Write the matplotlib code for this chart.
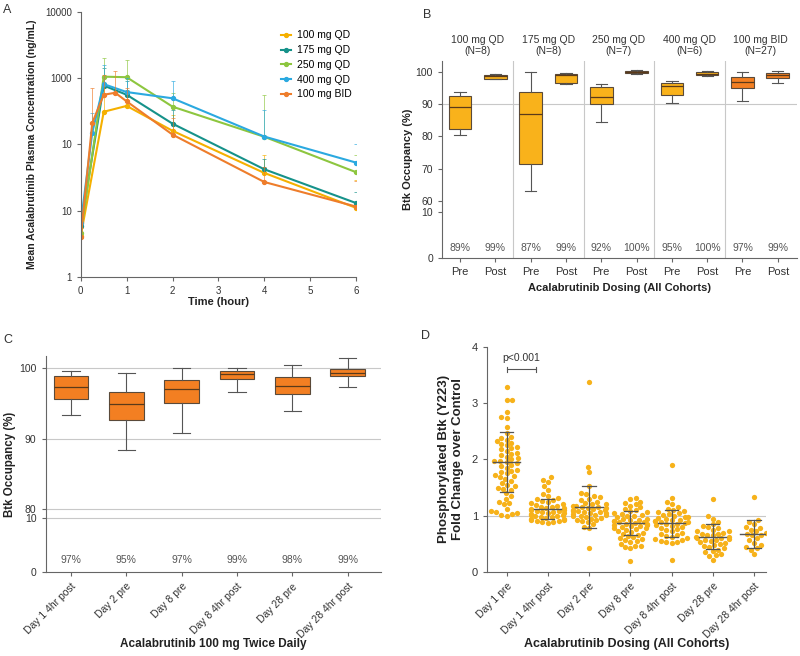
"""Four-panel acalabrutinib PK / Btk occupancy / pBtk figure."""

import numpy as np
import matplotlib
matplotlib.use("Agg")
import matplotlib.pyplot as plt
import seaborn as sns
import pandas as pd

plt.rcParams.update({"font.family": ["Liberation Sans", "DejaVu Sans"],
                     "font.size": 7})

TXT = "#333333"
SPINE = "#666666"
GRID = "#C8C8C8"

# ---------------------------------------------------------------- data
# A: mean plasma concentration (ng/mL) and top of error bar
pk_names = ["100 mg QD", "175 mg QD", "250 mg QD", "400 mg QD", "100 mg BID"]
pk_colors = ["#F5B000", "#16928A", "#8DC63F", "#2BA9E0", "#EE7D2B"]
pk_times = [[0, 0.5, 1, 2, 4, 6],
            [0, 0.5, 1, 2, 4, 6],
            [0, 0.5, 1, 2, 4, 6],
            [0, 0.25, 0.5, 1, 2, 4, 6],
            [0, 0.25, 0.5, 0.75, 1, 2, 4, 6]]
pk_mean = [[4.2, 310, 380, 160, 37, 11],
           [5.8, 770, 560, 205, 42, 13],
           [4.6, 1050, 1030, 370, 130, 38],
           [6.5, 150, 810, 615, 495, 131, 53],
           [4.0, 210, 560, 600, 445, 140, 27, 11.5]]
pk_top = [[5.5, 700, 650, 280, 70, 29],
          [7.5, 1400, 900, 330, 60, 19],
          [6.5, 2000, 1870, 600, 560, 70],
          [12, 300, 1600, 1000, 900, 330, 102],
          [5.5, 720, 1100, 1300, 700, 250, 45, 28]]
pk_yticks = [1, 10, 100, 1000, 10000]
pk_yticklabels = ["1", "10", "10", "1000", "10000"]

# B: Btk occupancy by cohort, pre/post dose
occ_groups = ["100 mg QD\n(N=8)", "175 mg QD\n(N=8)", "250 mg QD\n(N=7)",
              "400 mg QD\n(N=6)", "100 mg BID\n(N=27)"]
occ_whislo = [80.6, 97.7, 63.1, 96.1, 84.5, 99.3, 90.5, 98.8, 90.9, 96.7]
occ_q1 = [82.3, 97.8, 71.6, 96.7, 89.9, 99.7, 92.8, 98.9, 95.1, 98.2]
occ_med = [89.0, 98.6, 86.9, 98.9, 92.1, 100.0, 95.7, 99.4, 96.9, 99.1]
occ_q3 = [92.4, 99.1, 93.8, 99.4, 95.4, 100.3, 96.4, 99.9, 98.5, 99.7]
occ_whishi = [93.9, 99.2, 100.0, 99.8, 96.1, 100.7, 97.2, 100.3, 100.0, 100.2]
occ_pct = ["89%", "99%", "87%", "99%", "92%", "100%", "95%", "100%", "97%", "99%"]

# C: Btk occupancy, 100 mg BID over time
bid_labels = ["Day 1 4hr post", "Day 2 pre", "Day 8 pre", "Day 8 4hr post",
              "Day 28 pre", "Day 28 4hr post"]
bid_whislo = [93.3, 88.4, 90.8, 96.7, 94.0, 97.4]
bid_q1 = [95.7, 92.7, 95.1, 98.5, 96.4, 98.9]
bid_med = [97.3, 95.0, 97.0, 99.2, 97.5, 99.4]
bid_q3 = [98.9, 96.7, 98.3, 99.7, 98.8, 99.9]
bid_whishi = [99.7, 99.3, 100.0, 100.1, 100.5, 101.5]
bid_pct = ["97%", "95%", "97%", "99%", "98%", "99%"]

# D: phosphorylated Btk fold change, individual values + mean/SD
pbtk_labels = ["Day 1 pre", "Day 1 4hr post", "Day 2 pre", "Day 8 pre",
               "Day 8 4hr post", "Day 28 pre", "Day 28 4hr post"]
pbtk_d1_pre = [3.28, 3.06, 3.05, 2.85, 2.75, 2.73, 2.58, 2.47, 2.40, 2.38,
               2.35, 2.33, 2.30, 2.28, 2.25, 2.22, 2.20, 2.18, 2.15, 2.12,
               2.10, 2.08, 2.05, 2.02, 2.00, 1.98, 1.97, 1.95, 1.93, 1.90,
               1.88, 1.85, 1.82, 1.80, 1.78, 1.75, 1.72, 1.70, 1.68, 1.65,
               1.62, 1.58, 1.55, 1.52, 1.50, 1.48, 1.45, 1.40, 1.35, 1.30,
               1.25, 1.22, 1.20, 1.12, 1.08, 1.06, 1.05, 1.03, 1.00, 1.02]
pbtk_d1_post = [1.68, 1.63, 1.60, 1.52, 1.45, 1.38, 1.35, 1.32, 1.30, 1.28,
                1.26, 1.24, 1.22, 1.20, 1.19, 1.18, 1.16, 1.15, 1.14, 1.13,
                1.12, 1.11, 1.10, 1.09, 1.08, 1.07, 1.06, 1.05, 1.04, 1.03,
                1.02, 1.01, 1.00, 0.99, 0.98, 0.97, 0.96, 0.95, 0.94, 0.93,
                0.92, 0.91, 0.90, 0.89, 0.88, 0.87]
pbtk_d2_pre = [3.38, 1.87, 1.78, 1.52, 1.40, 1.38, 1.35, 1.33, 1.30, 1.28,
               1.25, 1.22, 1.21, 1.20, 1.18, 1.17, 1.16, 1.15, 1.14, 1.13,
               1.12, 1.11, 1.10, 1.09, 1.08, 1.07, 1.06, 1.05, 1.04, 1.03,
               1.02, 1.01, 1.00, 0.99, 0.98, 0.96, 0.95, 0.93, 0.92, 0.90,
               0.88, 0.85, 0.80, 0.78, 0.43]
pbtk_d8_pre = [1.32, 1.30, 1.25, 1.22, 1.20, 1.18, 1.15, 1.12, 1.10, 1.08,
               1.06, 1.05, 1.03, 1.01, 1.00, 0.99, 0.97, 0.95, 0.94, 0.93,
               0.92, 0.91, 0.90, 0.89, 0.88, 0.87, 0.86, 0.85, 0.84, 0.83,
               0.82, 0.81, 0.80, 0.79, 0.78, 0.76, 0.75, 0.73, 0.71, 0.70,
               0.68, 0.66, 0.64, 0.62, 0.60, 0.58, 0.56, 0.55, 0.54, 0.50,
               0.47, 0.46, 0.44, 0.42, 0.20]
pbtk_d8_post = [1.90, 1.32, 1.25, 1.20, 1.15, 1.12, 1.10, 1.08, 1.06, 1.04,
                1.03, 1.02, 1.00, 0.98, 0.97, 0.96, 0.95, 0.93, 0.92, 0.91,
                0.90, 0.89, 0.88, 0.87, 0.86, 0.85, 0.83, 0.82, 0.80, 0.78,
                0.76, 0.74, 0.72, 0.70, 0.68, 0.66, 0.64, 0.62, 0.60, 0.58,
                0.56, 0.55, 0.54, 0.53, 0.52, 0.22]
pbtk_d28_pre = [1.30, 1.00, 0.95, 0.88, 0.85, 0.82, 0.80, 0.78, 0.75, 0.73,
                0.72, 0.70, 0.68, 0.67, 0.66, 0.65, 0.63, 0.62, 0.61, 0.60,
                0.58, 0.57, 0.56, 0.55, 0.53, 0.52, 0.50, 0.48, 0.46, 0.45,
                0.42, 0.40, 0.38, 0.35, 0.32, 0.30, 0.28, 0.22]
pbtk_d28_post = [1.33, 0.92, 0.88, 0.85, 0.80, 0.78, 0.75, 0.72, 0.70, 0.68,
                 0.66, 0.65, 0.60, 0.56, 0.52, 0.48, 0.45, 0.42, 0.40, 0.32]
pbtk_mean = [1.95, 1.12, 1.15, 0.87, 0.87, 0.63, 0.67]
pbtk_sd = [0.53, 0.18, 0.37, 0.22, 0.24, 0.22, 0.25]

# ---------------------------------------------------------------- helpers
def style(ax, size=7):
    for s in ("top", "right"):
        ax.spines[s].set_visible(False)
    for s in ("left", "bottom"):
        ax.spines[s].set_color(SPINE)
        ax.spines[s].set_linewidth(0.8)
    ax.tick_params(colors=SPINE, labelcolor=TXT, labelsize=size, length=3, width=0.8)


def broken_scale(ax, xp, fp):
    fwd = lambda v: np.interp(v, xp, fp)
    inv = lambda v: np.interp(v, fp, xp)
    ax.set_yscale("function", functions=(fwd, inv))


def box_stats(lo, q1, med, q3, hi):
    return [dict(whislo=a, q1=b, med=c, q3=d, whishi=e, fliers=[])
            for a, b, c, d, e in zip(lo, q1, med, q3, hi)]


BOXSTYLE = dict(boxprops=dict(edgecolor="#5A4A3A", linewidth=0.8),
                medianprops=dict(color="#5A3A1A", linewidth=0.9),
                whiskerprops=dict(color="#555555", linewidth=0.8),
                capprops=dict(color="#555555", linewidth=0.8))

fig = plt.figure(figsize=(8.0, 6.56), dpi=100)

# ---------------------------------------------------------------- panel A
axA = fig.add_axes([0.101, 0.578, 0.344, 0.404])
for name, col, t, m, top in zip(pk_names, pk_colors, pk_times, pk_mean, pk_top):
    m = np.array(m)
    up = np.array(top) - m
    axA.errorbar(t, m, yerr=[np.zeros_like(m), up], fmt="none", ecolor=col,
                 elinewidth=0.6, capsize=1.5, capthick=0.6, alpha=0.75)
    axA.plot(t, m, color=col, lw=1.5, marker="o", ms=2.8, label=name)
axA.set_yscale("log")
axA.set_ylim(1, 10000)
axA.set_xlim(0, 6)
axA.set_yticks(pk_yticks)
axA.set_yticklabels(pk_yticklabels)
axA.minorticks_off()
axA.set_xticks(range(7))
axA.set_xlabel("Time (hour)", fontsize=8, fontweight="bold", color="#222", labelpad=1)
axA.set_ylabel("Mean Acalabrutinib Plasma Concentration (ng/mL)", fontsize=7.5,
               fontweight="bold", color="#222", labelpad=6)
style(axA, 7)
axA.legend(loc="upper right", bbox_to_anchor=(1.02, 0.965), frameon=False,
           fontsize=7.5, handlelength=1.0, handletextpad=0.6, labelspacing=0.45)

# ---------------------------------------------------------------- panel B
axB = fig.add_axes([0.5525, 0.6067, 0.444, 0.300])
broken_scale(axB, [-100, 0, 10, 60, 200], [-460, 0, 46, 57, 509.2])
cols_B = ["#F9B21B"] * 8 + ["#F37F22"] * 2
pos_B = np.arange(10)
arts = axB.bxp(box_stats(occ_whislo, occ_q1, occ_med, occ_q3, occ_whishi),
               positions=pos_B, widths=0.64, patch_artist=True, showfliers=False,
               **BOXSTYLE)
for patch, c in zip(arts["boxes"], cols_B):
    patch.set_facecolor(c)
axB.set_ylim(0, 103.3)
axB.set_xlim(-0.51, 9.55)
axB.set_yticks([0, 10, 60, 70, 80, 90, 100])
axB.axhline(90, color=GRID, lw=0.8, zorder=0)
for xs in (1.5, 3.5, 5.5, 7.5):
    axB.axvline(xs, color=GRID, lw=0.8, zorder=0)
for i, p in enumerate(occ_pct):
    axB.text(pos_B[i], 2.2, p, ha="center", va="center", fontsize=7.5, color="#555")
for g, lab in enumerate(occ_groups):
    axB.text(2 * g + 0.5, 1.025, lab, transform=axB.get_xaxis_transform(),
             ha="center", va="bottom", fontsize=7.5, color=TXT, linespacing=1.1)
axB.set_xticks(pos_B)
axB.set_xticklabels(["Pre", "Post"] * 5)
axB.set_xlabel("Acalabrutinib Dosing (All Cohorts)", fontsize=8,
               fontweight="bold", color="#222", labelpad=4)
axB.set_ylabel("Btk Occupancy (%)", fontsize=8, fontweight="bold", color="#222",
               labelpad=2)
style(axB, 7.5)
axB.tick_params(axis="x", labelsize=8)

# ---------------------------------------------------------------- panel C
axC = fig.add_axes([0.057, 0.1276, 0.419, 0.330])
broken_scale(axC, [-100, 0, 10, 80, 200], [-540, 0, 54, 63.6, 906])
pos_C = np.arange(6)
arts = axC.bxp(box_stats(bid_whislo, bid_q1, bid_med, bid_q3, bid_whishi),
               positions=pos_C, widths=0.63, patch_artist=True, showfliers=False,
               **BOXSTYLE)
for patch in arts["boxes"]:
    patch.set_facecolor("#F37F22")
axC.set_ylim(0, 101.8)
axC.set_xlim(-0.46, 5.6)
axC.set_yticks([0, 10, 80, 90, 100])
for yv in (10, 80, 90, 100):
    axC.axhline(yv, color=GRID, lw=0.8, zorder=0)
for i, p in enumerate(bid_pct):
    axC.text(pos_C[i], 2.3, p, ha="center", va="center", fontsize=7.5, color="#555")
axC.set_xticks(pos_C)
axC.set_xticklabels(bid_labels, rotation=45, ha="right", rotation_mode="anchor")
axC.set_xlabel("Acalabrutinib 100 mg Twice Daily", fontsize=8.5,
               fontweight="bold", color="#222")
axC.xaxis.set_label_coords(0.5, -0.305)
axC.set_ylabel("Btk Occupancy (%)", fontsize=8.3, fontweight="bold", color="#222",
               labelpad=2)
style(axC, 7.5)

# ---------------------------------------------------------------- panel D
axD = fig.add_axes([0.609, 0.128, 0.348, 0.3434])
groups = [pbtk_d1_pre, pbtk_d1_post, pbtk_d2_pre, pbtk_d8_pre,
          pbtk_d8_post, pbtk_d28_pre, pbtk_d28_post]
df = pd.DataFrame({"timepoint": [lab for lab, g in zip(pbtk_labels, groups) for _ in g],
                   "fold": [v for g in groups for v in g]})
axD.axhline(1, color=GRID, lw=0.8, zorder=0)
sns.swarmplot(data=df, x="timepoint", y="fold", order=pbtk_labels, ax=axD,
              color="#F7B21A", size=3.8, linewidth=0, warn_thresh=1.0)
for i, (m, s) in enumerate(zip(pbtk_mean, pbtk_sd)):
    axD.plot([i - 0.33, i + 0.33], [m, m], color="#555", lw=1.0, zorder=5)
    axD.plot([i, i], [m - s, m + s], color="#555", lw=0.9, zorder=5)
    for yv in (m - s, m + s):
        axD.plot([i - 0.16, i + 0.16], [yv, yv], color="#555", lw=0.9, zorder=5)
# significance bracket
axD.plot([0, 0.72], [3.6, 3.6], color="#555", lw=0.8)
for xb in (0, 0.72):
    axD.plot([xb, xb], [3.56, 3.64], color="#555", lw=0.8)
axD.text(0.36, 3.72, "p<0.001", ha="center", va="bottom", fontsize=7.5, color=TXT)
axD.set_ylim(0, 4)
axD.set_xlim(-0.47, 6.28)
axD.set_yticks([0, 1, 2, 3, 4])
axD.set_xticks(range(7))
axD.set_xticklabels(pbtk_labels, rotation=45, ha="right", rotation_mode="anchor")
axD.set_xlabel("Acalabrutinib Dosing (All Cohorts)", fontsize=9,
               fontweight="bold", color="#222")
axD.xaxis.set_label_coords(0.5, -0.295)
axD.set_ylabel("Phosphorylated Btk (Y223)\nFold Change over Control", fontsize=9.5,
               fontweight="bold", color="#222", labelpad=6)
style(axD, 8)
axD.tick_params(axis="x", labelsize=7.5)

# panel letters
for lab, x, y in (("A", 3, 10), ("B", 423, 15), ("C", 3, 340), ("D", 421, 336)):
    fig.text(x / 800, 1 - y / 656, lab, fontsize=9, color=TXT, ha="left", va="center")

fig.savefig("out.png", dpi=100, facecolor="white")
